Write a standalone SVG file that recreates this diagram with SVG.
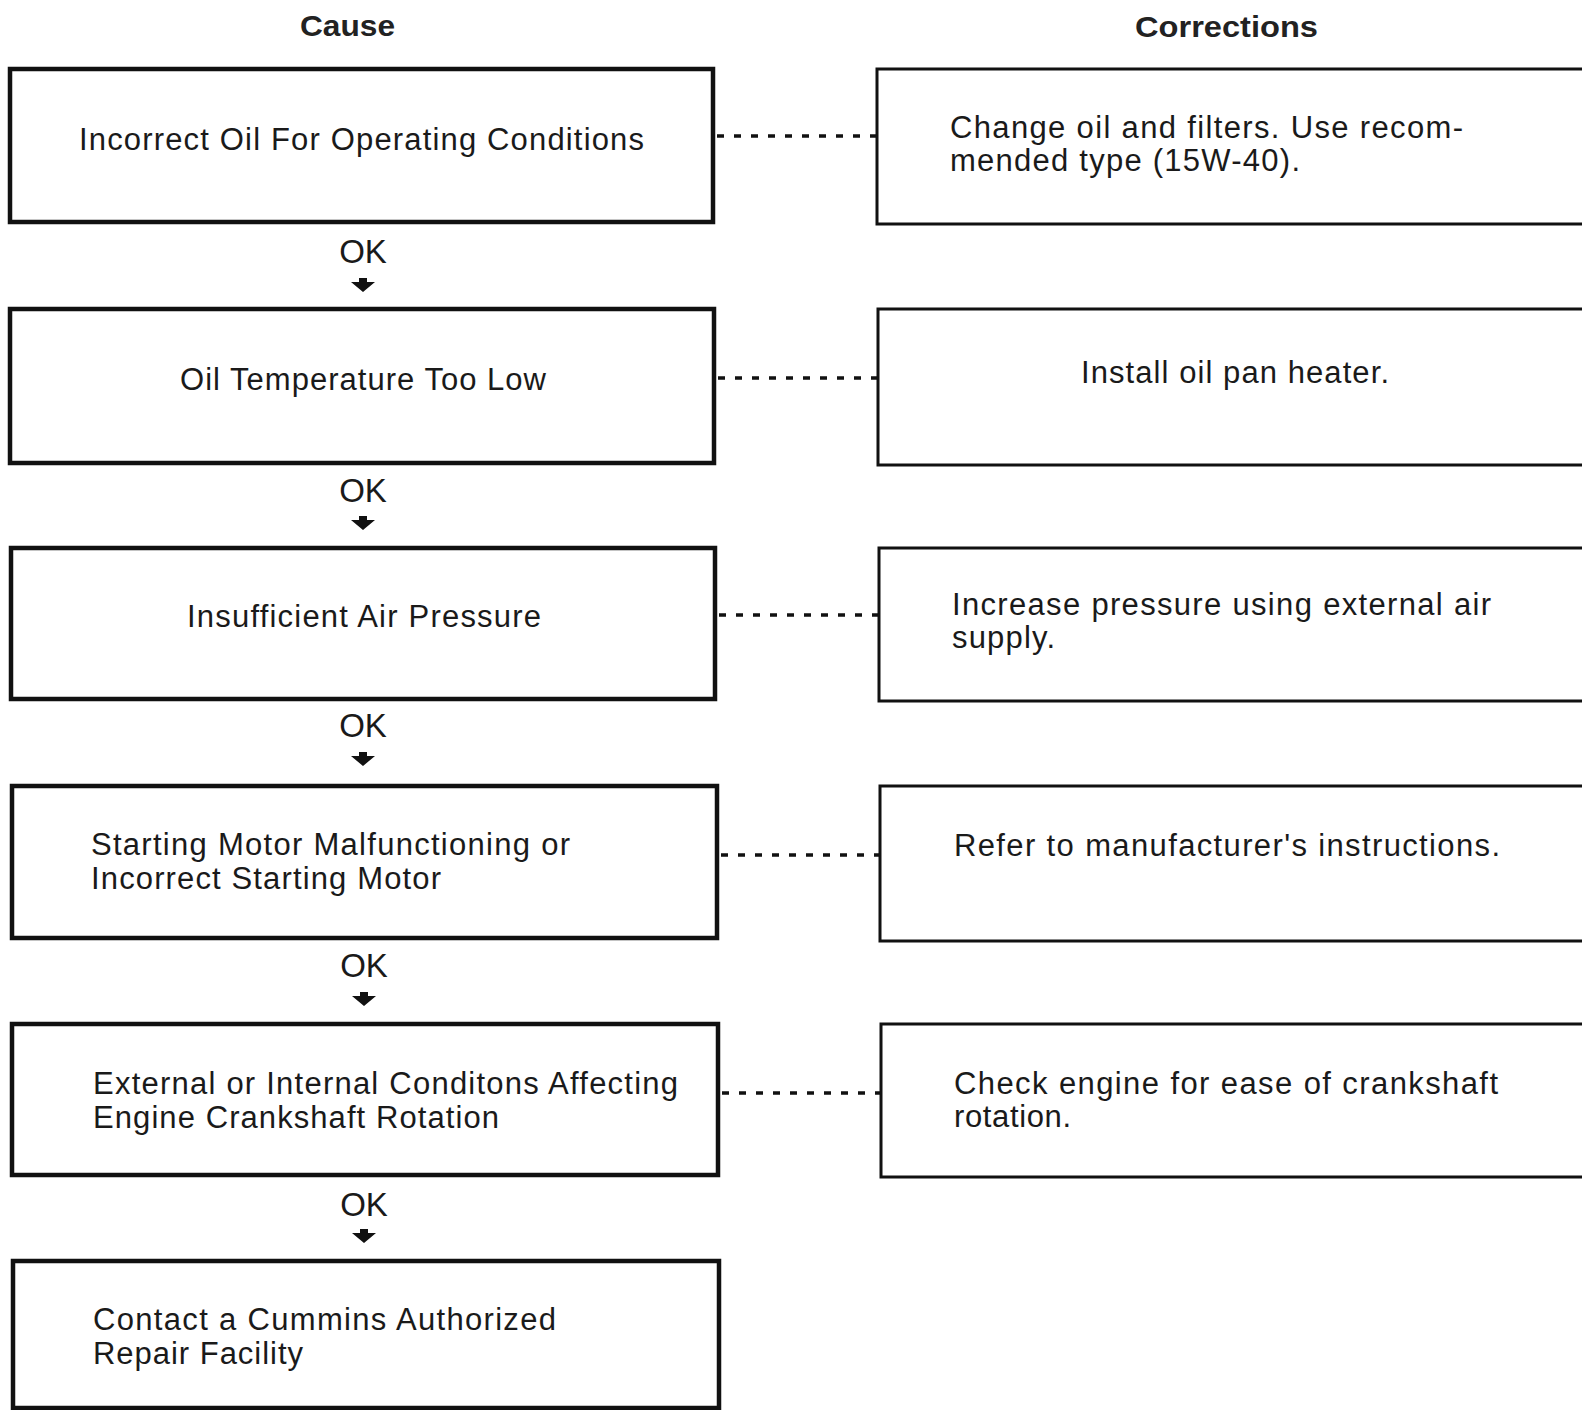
<svg xmlns="http://www.w3.org/2000/svg" width="1582" height="1410" viewBox="0 0 1582 1410">
  <style>
    .bg { fill: #ffffff; }
    .cause { fill: none; stroke: #111; stroke-width: 4.5; }
    .fix { fill: none; stroke: #111; stroke-width: 3; }
    .t { font-family: "Liberation Sans", Arial, sans-serif; font-size: 31px; fill: #1a1a1a; }
    .h { font-family: "Liberation Sans", Arial, sans-serif; font-size: 30px; font-weight: bold; fill: #222; }
    .ok { font-family: "Liberation Sans", Arial, sans-serif; font-size: 33px; fill: #1a1a1a; text-anchor: middle; }
    .dot { stroke: #111; stroke-width: 3.5; stroke-dasharray: 7 10; fill: none; }
    .arrow { fill: #111; }
  </style>
  <defs>
    <path id="down" class="arrow" d="M -4 -7 H 4 V -3 H 12 L 0 7 L -12 -3 H -4 Z"/>
  </defs>
  <rect class="bg" x="0" y="0" width="1582" height="1410"/>

  <!-- column headings -->
  <text class="h" x="300" y="36" textLength="95" lengthAdjust="spacingAndGlyphs">Cause</text>
  <text class="h" x="1135" y="37" textLength="183" lengthAdjust="spacingAndGlyphs">Corrections</text>

  <!-- cause chain -->
  <g id="cause-oil-type">
    <rect class="cause" x="10" y="69" width="703" height="153"/>
    <text class="t" x="79" y="150" textLength="565" lengthAdjust="spacing">Incorrect Oil For Operating Conditions</text>
  </g>
  <g id="cause-oil-temp">
    <rect class="cause" x="10" y="309" width="704" height="154"/>
    <text class="t" x="180" y="390" textLength="366" lengthAdjust="spacing">Oil Temperature Too Low</text>
  </g>
  <g id="cause-air-pressure">
    <rect class="cause" x="11" y="548" width="704" height="151"/>
    <text class="t" x="187" y="627" textLength="354" lengthAdjust="spacing">Insufficient Air Pressure</text>
  </g>
  <g id="cause-starting-motor">
    <rect class="cause" x="12" y="786" width="705" height="152"/>
    <text class="t" x="91" y="855" textLength="479" lengthAdjust="spacing">Starting Motor Malfunctioning or</text>
    <text class="t" x="91" y="889" textLength="350" lengthAdjust="spacing">Incorrect Starting Motor</text>
  </g>
  <g id="cause-crankshaft">
    <rect class="cause" x="12" y="1024" width="706" height="151"/>
    <text class="t" x="93" y="1094" textLength="585" lengthAdjust="spacing">External or Internal Conditons Affecting</text>
    <text class="t" x="93" y="1128" textLength="406" lengthAdjust="spacing">Engine Crankshaft Rotation</text>
  </g>
  <g id="cause-repair-facility">
    <rect class="cause" x="13" y="1261" width="706" height="147"/>
    <text class="t" x="93" y="1330" textLength="463" lengthAdjust="spacing">Contact a Cummins Authorized</text>
    <text class="t" x="93" y="1364" textLength="210" lengthAdjust="spacing">Repair Facility</text>
  </g>

  <!-- corrections -->
  <g id="fix-oil-type">
    <rect class="fix" x="877" y="69" width="720" height="155"/>
    <text class="t" x="950" y="138" textLength="513" lengthAdjust="spacing">Change oil and filters. Use recom-</text>
    <text class="t" x="950" y="171" textLength="350" lengthAdjust="spacing">mended type (15W-40).</text>
  </g>
  <g id="fix-oil-temp">
    <rect class="fix" x="878" y="309" width="720" height="156"/>
    <text class="t" x="1081" y="383" textLength="308" lengthAdjust="spacing">Install oil pan heater.</text>
  </g>
  <g id="fix-air-pressure">
    <rect class="fix" x="879" y="548" width="720" height="153"/>
    <text class="t" x="952" y="615" textLength="539" lengthAdjust="spacing">Increase pressure using external air</text>
    <text class="t" x="952" y="648" textLength="103" lengthAdjust="spacing">supply.</text>
  </g>
  <g id="fix-starting-motor">
    <rect class="fix" x="880" y="786" width="720" height="155"/>
    <text class="t" x="954" y="856" textLength="546" lengthAdjust="spacing">Refer to manufacturer's instructions.</text>
  </g>
  <g id="fix-crankshaft">
    <rect class="fix" x="881" y="1024" width="720" height="153"/>
    <text class="t" x="954" y="1094" textLength="544" lengthAdjust="spacing">Check engine for ease of crankshaft</text>
    <text class="t" x="954" y="1127" textLength="117" lengthAdjust="spacing">rotation.</text>
  </g>

  <!-- connectors: OK steps and dotted links -->
  <g id="connectors">
    <text class="ok" x="363" y="263">OK</text>
    <use href="#down" x="363" y="285"/>
    <text class="ok" x="363" y="502">OK</text>
    <use href="#down" x="363" y="523"/>
    <text class="ok" x="363" y="737">OK</text>
    <use href="#down" x="363" y="759"/>
    <text class="ok" x="364" y="977">OK</text>
    <use href="#down" x="364" y="999"/>
    <text class="ok" x="364" y="1216">OK</text>
    <use href="#down" x="364" y="1236"/>

    <line class="dot" x1="717" y1="136" x2="877" y2="136"/>
    <line class="dot" x1="718" y1="378" x2="878" y2="378"/>
    <line class="dot" x1="719" y1="615" x2="879" y2="615"/>
    <line class="dot" x1="721" y1="855" x2="880" y2="855"/>
    <line class="dot" x1="722" y1="1093" x2="881" y2="1093"/>
  </g>
</svg>
